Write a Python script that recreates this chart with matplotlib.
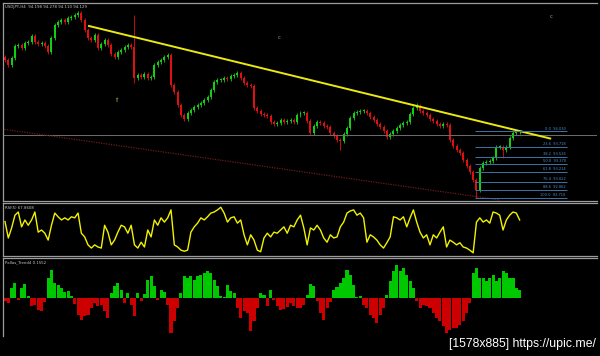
import matplotlib
matplotlib.use("Agg")
import matplotlib.pyplot as plt
import numpy as np

# USDJPY H4 closes, one per bar (open = previous close)
closes = [
    95.46, 95.36, 95.50, 95.74, 95.76, 95.70, 95.80, 95.82, 95.94, 95.82,
    95.78, 95.80, 95.74, 95.62, 95.90, 96.16, 96.22, 96.26, 96.22, 96.30,
    96.32, 96.36, 96.40, 96.26, 96.06, 95.90, 95.86, 95.96, 95.70, 95.78,
    95.86, 95.76, 95.58, 95.52, 95.62, 95.66, 95.72, 95.76, 95.72, 95.10,
    95.16, 95.12, 95.18, 95.10, 95.12, 95.36, 95.42, 95.46, 95.52, 95.56,
    94.96, 94.82, 94.56, 94.36, 94.28, 94.40, 94.46, 94.52, 94.56, 94.60,
    94.66, 94.72, 94.86, 95.02, 95.06, 95.06, 95.10, 95.08, 95.14, 95.16,
    95.20, 95.10, 95.00, 94.96, 94.94, 94.50, 94.44, 94.38, 94.36, 94.34,
    94.22, 94.18, 94.20, 94.26, 94.22, 94.24, 94.26, 94.22, 94.36, 94.40,
    94.40, 94.24, 94.00, 94.14, 94.22, 94.20, 94.14, 94.12, 94.00, 93.94,
    93.86, 93.84, 93.98, 94.10, 94.30, 94.40, 94.42, 94.44, 94.44, 94.40,
    94.32, 94.26, 94.18, 94.12, 94.04, 93.92, 93.98, 94.04, 94.10, 94.16,
    94.20, 94.22, 94.38, 94.50, 94.54, 94.44, 94.40, 94.36, 94.28, 94.24,
    94.18, 94.14, 94.18, 94.16, 93.86, 93.74, 93.66, 93.60, 93.46, 93.34,
    93.22, 93.06, 92.86, 93.30, 93.40, 93.42, 93.44, 93.50, 93.72, 93.72,
    93.66, 93.72, 93.90, 94.00, 94.02, 94.02,
]
first_open = 95.52
spike_high = {39: 96.36, 124: 94.60}
spike_low = {39: 95.00, 101: 93.66, 142: 92.71, 150: 93.50}

rsi = [
    65, 34, 53, 77, 83, 55, 68, 58, 68, 83,
    45, 49, 43, 30, 58, 81, 74, 68, 72, 68,
    74, 72, 81, 43, 36, 21, 15, 21, 17, 15,
    58, 45, 21, 30, 45, 58, 55, 43, 58, 21,
    15, 26, 17, 49, 36, 68, 58, 72, 64, 72,
    87, 21, 17, 11, 9, 11, 45, 55, 62, 72,
    68, 74, 81, 83, 87, 92, 81, 64, 72, 74,
    62, 68, 40, 21, 40, 30, 11, 8, 34, 43,
    36, 45, 43, 49, 55, 43, 58, 55, 68,
    77, 53, 21, 53, 49, 58, 49, 34, 26, 40,
    34, 36, 55, 64, 81, 85, 87, 77, 81, 72,
    26, 40, 36, 30, 21, 15, 25, 36, 74, 72,
    68, 74, 55, 72, 87, 64, 45, 34, 40, 21,
    40, 34, 45, 55, 17, 30, 26, 21, 25, 17,
    15, 11, 6, 64, 72, 64, 68, 62, 83, 81,
    77, 49, 68, 77, 83, 81, 68,
]

trend = [
    -0.03, -0.05, 0.10, 0.15, -0.02, 0.10, 0.14, 0.02, -0.08, -0.07,
    -0.12, -0.13, -0.04, 0.20, 0.28, 0.15, 0.13, 0.10, 0.06, 0.07,
    0.02, -0.06, -0.17, -0.22, -0.18, -0.17, -0.10, -0.05, -0.08, -0.07,
    -0.13, -0.20, 0.05, 0.12, 0.15, 0.08, -0.05, 0.05, -0.07, -0.18,
    0.05, -0.03, 0.04, 0.18, 0.22, 0.12, -0.02, 0.08, 0.06, -0.07,
    -0.35, -0.23, -0.10, 0.05, 0.22, 0.20, 0.22, 0.18, 0.22, 0.23,
    0.25, 0.27, 0.25, 0.18, 0.12, 0.02, 0.01, 0.13, 0.07, 0.05,
    -0.10, -0.20, -0.13, -0.15, -0.33, -0.23, -0.10, 0.05, 0.03, -0.08,
    0.08, -0.02, -0.08, -0.12, -0.11, -0.09, -0.05, -0.08, -0.10, -0.10,
    -0.07, 0.03, 0.14, 0.12, -0.03, -0.15, -0.22, -0.10, -0.04, 0.08,
    0.11, 0.15, 0.20, 0.28, 0.23, 0.13, 0.01, 0.02, -0.07, -0.10,
    -0.17, -0.20, -0.25, -0.17, -0.10, 0.03, 0.17, 0.27, 0.33, 0.27,
    0.30, 0.23, 0.17, 0.10, -0.03, -0.10, -0.07, -0.08, -0.10, -0.15,
    -0.20, -0.23, -0.28, -0.35, -0.32, -0.30, -0.30, -0.27, -0.23, -0.15,
    -0.05, 0.25, 0.30, 0.20, 0.20, 0.17, 0.20, 0.23, 0.17, 0.20,
    0.27, 0.25, 0.20, 0.20, 0.10, 0.08,
]

# drawn objects
trend_line_x = [25.3, 164.2]
trend_line_p = [96.14, 93.89]
channel_x = [-0.9, 149.1]
channel_p = [94.08, 92.66]
bid_price = 93.96
fib_x = [141.6, 169.3]
fib_prices = [94.030, 93.718, 93.526, 93.370, 93.214, 93.022, 92.862, 92.710]
fib_labels = ["0.0  94.030", "23.6  93.718", "38.2  93.526", "50.0  93.370",
              "61.8  93.214", "76.4  93.022", "88.6  92.862", "100.0  92.710"]
arrows = [(33.7, 94.66, "\u21d1", "#c8c060"), (82.5, 95.90, "c", "#9a9a80"),
          (164.5, 96.32, "c", "#9a9a80")]

header = "USDJPY,H4  94.198 94.278 94.110 94.129"
rsi_title = "RSI(5) 67.8608"
trend_title = "Pallas_Trend4 0.1552"

W, H = 600, 356
fig = plt.figure(figsize=(6, 3.56), dpi=100, facecolor="black")


def box(top, bottom, left=3, right=597):
    return [left / W, 1 - bottom / H, (right - left) / W, (bottom - top) / H]


ax = fig.add_axes(box(2.5, 201))
ax_rsi = fig.add_axes(box(203, 256))
ax_tr = fig.add_axes(box(258, 336))

for a in (ax, ax_rsi, ax_tr):
    a.set_facecolor("black")
    a.set_xlim(-0.6, 178.3)
    a.set_xticks([])
    a.set_yticks([])
    for s in a.spines.values():
        s.set_color("#9c9c9c")
        s.set_linewidth(0.9)
    a.spines["right"].set_visible(False)
ax_tr.spines["bottom"].set_visible(False)

# candles
c = np.array(closes)
o = np.array([first_open] + closes[:-1])
x = np.arange(len(c))
hi = np.maximum(o, c) + 0.04
lo = np.minimum(o, c) - 0.04
for i, v in spike_high.items():
    hi[i] = v
for i, v in spike_low.items():
    lo[i] = v
cols = np.where(c >= o, "#10d010", "#e01010")
ax.vlines(x, lo, hi, colors=cols, lw=0.6)
ax.bar(x, np.maximum(np.abs(c - o), 0.012), bottom=np.minimum(o, c),
       width=0.6, color=cols, lw=0)

ax.axhline(bid_price, color="#6e6e6e", lw=0.7)
ax.plot(channel_x, channel_p, color="#6a1c1c", lw=0.9, ls=(0, (1, 1)))
ax.plot(trend_line_x, trend_line_p, color="#eaea10", lw=1.4)

for p, lab in zip(fib_prices, fib_labels):
    ax.hlines(p, fib_x[0], fib_x[1], color="#3c74a8", lw=0.7)
    ax.text(fib_x[1] - 0.4, p + 0.02, lab, ha="right", va="bottom",
            fontsize=2.6, color="#4f8cc0")

for bx, bp, s, col in arrows:
    ax.text(bx, bp, s, ha="center", va="center", fontsize=4, color=col)

ax.set_ylim(92.64, 96.61)
ax.text(0.004, 0.985, header, transform=ax.transAxes, ha="left", va="top",
        fontsize=2.8, color="#c8c8c8")

# RSI
ax_rsi.plot(x, rsi, color="#f2f200", lw=1.0)
ax_rsi.set_ylim(0, 100)
ax_rsi.text(0.004, 0.95, rsi_title, transform=ax_rsi.transAxes, ha="left",
            va="top", fontsize=2.8, color="#c8c8c8")

# trend histogram
tv = np.array(trend)
ax_tr.bar(x, tv, width=0.92, color=np.where(tv > 0, "#00c800", "#cc0000"),
          lw=0)
ax_tr.set_ylim(-0.377, 0.403)
ax_tr.text(0.004, 0.975, trend_title, transform=ax_tr.transAxes, ha="left",
           va="top", fontsize=2.8, color="#c8c8c8")

fig.text(596 / W, 1 - 344 / H, "[1578x885] https://upic.me/", ha="right",
         va="center", color="white", fontsize=8.8, family="Liberation Sans")

fig.savefig("out.png", dpi=100, facecolor="black")
